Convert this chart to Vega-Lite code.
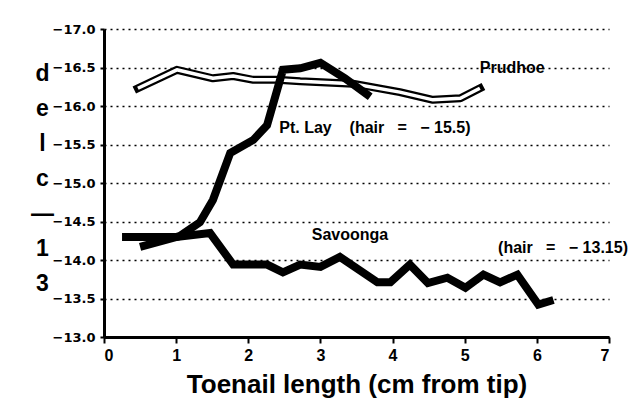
{
  "$schema": "https://vega.github.io/schema/vega-lite/v6.json",
  "width": 505,
  "height": 308,
  "autosize": {"type": "none"},
  "padding": {"left": 104, "top": 29, "right": 27, "bottom": 65},
  "background": "white",
  "config": {"view": {"stroke": null}, "font": "Liberation Sans"},
  "datasets": {
    "lines": [
      {"series": "Prudhoe", "x": 0.47, "y": -16.23},
      {"series": "Prudhoe", "x": 1.01, "y": -16.47},
      {"series": "Prudhoe", "x": 1.51, "y": -16.36},
      {"series": "Prudhoe", "x": 1.79, "y": -16.39},
      {"series": "Prudhoe", "x": 2.07, "y": -16.34},
      {"series": "Prudhoe", "x": 2.4, "y": -16.34},
      {"series": "Prudhoe", "x": 2.72, "y": -16.32},
      {"series": "Prudhoe", "x": 3.45, "y": -16.29},
      {"series": "Prudhoe", "x": 4.1, "y": -16.18},
      {"series": "Prudhoe", "x": 4.56, "y": -16.08},
      {"series": "Prudhoe", "x": 4.94, "y": -16.1},
      {"series": "Prudhoe", "x": 5.21, "y": -16.23},
      {"series": "Pt. Lay", "x": 0.5, "y": -14.17},
      {"series": "Pt. Lay", "x": 1.05, "y": -14.31},
      {"series": "Pt. Lay", "x": 1.33, "y": -14.49},
      {"series": "Pt. Lay", "x": 1.51, "y": -14.78},
      {"series": "Pt. Lay", "x": 1.75, "y": -15.39},
      {"series": "Pt. Lay", "x": 2.07, "y": -15.56},
      {"series": "Pt. Lay", "x": 2.26, "y": -15.75},
      {"series": "Pt. Lay", "x": 2.48, "y": -16.47},
      {"series": "Pt. Lay", "x": 2.72, "y": -16.49},
      {"series": "Pt. Lay", "x": 3.0, "y": -16.56},
      {"series": "Pt. Lay", "x": 3.34, "y": -16.36},
      {"series": "Pt. Lay", "x": 3.69, "y": -16.12},
      {"series": "Savoonga", "x": 0.25, "y": -14.3},
      {"series": "Savoonga", "x": 1.0, "y": -14.3},
      {"series": "Savoonga", "x": 1.47, "y": -14.35},
      {"series": "Savoonga", "x": 1.79, "y": -13.94},
      {"series": "Savoonga", "x": 2.26, "y": -13.94},
      {"series": "Savoonga", "x": 2.48, "y": -13.84},
      {"series": "Savoonga", "x": 2.72, "y": -13.94},
      {"series": "Savoonga", "x": 3.0, "y": -13.91},
      {"series": "Savoonga", "x": 3.27, "y": -14.04},
      {"series": "Savoonga", "x": 3.79, "y": -13.71},
      {"series": "Savoonga", "x": 3.97, "y": -13.71},
      {"series": "Savoonga", "x": 4.24, "y": -13.94},
      {"series": "Savoonga", "x": 4.49, "y": -13.7},
      {"series": "Savoonga", "x": 4.76, "y": -13.77},
      {"series": "Savoonga", "x": 5.01, "y": -13.64},
      {"series": "Savoonga", "x": 5.26, "y": -13.81},
      {"series": "Savoonga", "x": 5.49, "y": -13.71},
      {"series": "Savoonga", "x": 5.73, "y": -13.81},
      {"series": "Savoonga", "x": 6.02, "y": -13.42},
      {"series": "Savoonga", "x": 6.23, "y": -13.48}
    ],
    "labels": [
      {"label": "Prudhoe", "x": 5.21, "y": -16.49},
      {"label": "Pt. Lay\u00a0\u00a0\u00a0\u00a0(hair\u00a0\u00a0\u00a0=\u00a0\u00a0\u00a0−\u00a015.5)", "x": 2.43, "y": -15.71},
      {"label": "Savoonga", "x": 2.88, "y": -14.32},
      {"label": "(hair\u00a0\u00a0\u00a0=\u00a0\u00a0\u00a0−\u00a013.15)", "x": 5.463, "y": -14.15}
    ]
  },
  "encoding": {
    "x": {
      "field": "x", "type": "quantitative",
      "scale": {"domain": [0, 7], "nice": false, "zero": false},
      "axis": {
        "values": [0, 1, 2, 3, 4, 5, 6, 7], "format": "d",
        "title": "Toenail length (cm from tip)",
        "titleFont": "Liberation Sans", "titleFontSize": 26, "titleFontWeight": "bold", "titleColor": "black", "titlePadding": 8,
        "labelFont": "Liberation Sans", "labelFontSize": 16, "labelFontWeight": "bold", "labelColor": "black", "labelPadding": 4,
        "labelOverlap": false,
        "domainColor": "black", "domainWidth": 3, "tickColor": "black", "tickWidth": 2, "tickSize": 6, "grid": false
      }
    },
    "y": {
      "field": "y", "type": "quantitative",
      "scale": {"domain": [-17, -13], "nice": false, "zero": false, "reverse": true},
      "axis": {
        "values": [-17, -16.5, -16, -15.5, -15, -14.5, -14, -13.5, -13], "format": ".1f",
        "labelOverlap": false,
        "title": ["d", "e", "l", "c", "—", "1", "3"],
        "titleAngle": 0, "titleAlign": "center", "titleBaseline": "top",
        "titleX": -62, "titleY": 33, "titleLineHeight": 35,
        "titleFont": "Liberation Sans", "titleFontSize": 23, "titleFontWeight": "bold", "titleColor": "black",
        "labelFont": "DejaVu Sans", "labelFontSize": 13, "labelFontWeight": "bold", "labelColor": "black", "labelPadding": 5,
        "domainColor": "black", "domainWidth": 3, "tickColor": "black", "tickWidth": 2, "tickSize": 4,
        "grid": true, "gridColor": "black", "gridDash": [2, 4], "gridWidth": 1.5, "gridOpacity": 1
      }
    }
  },
  "layer": [
    {
      "data": {"name": "lines"},
      "transform": [{"filter": "datum.series === 'Prudhoe'"}],
      "mark": {"type": "line", "color": "black", "strokeWidth": 8, "strokeJoin": "round", "strokeCap": "square"}
    },
    {
      "data": {"name": "lines"},
      "transform": [{"filter": "datum.series === 'Prudhoe'"}],
      "mark": {"type": "line", "color": "white", "strokeWidth": 3.5, "strokeJoin": "round", "strokeCap": "butt"}
    },
    {
      "data": {"name": "lines"},
      "transform": [{"filter": "datum.series !== 'Prudhoe'"}],
      "mark": {"type": "line", "color": "black", "strokeWidth": 8, "strokeJoin": "miter", "strokeCap": "butt"},
      "encoding": {"detail": {"field": "series"}}
    },
    {
      "data": {"name": "labels"},
      "mark": {"type": "text", "align": "left", "baseline": "middle", "font": "Liberation Sans", "fontSize": 16, "fontWeight": "bold", "color": "black"},
      "encoding": {"text": {"field": "label"}}
    }
  ]
}
